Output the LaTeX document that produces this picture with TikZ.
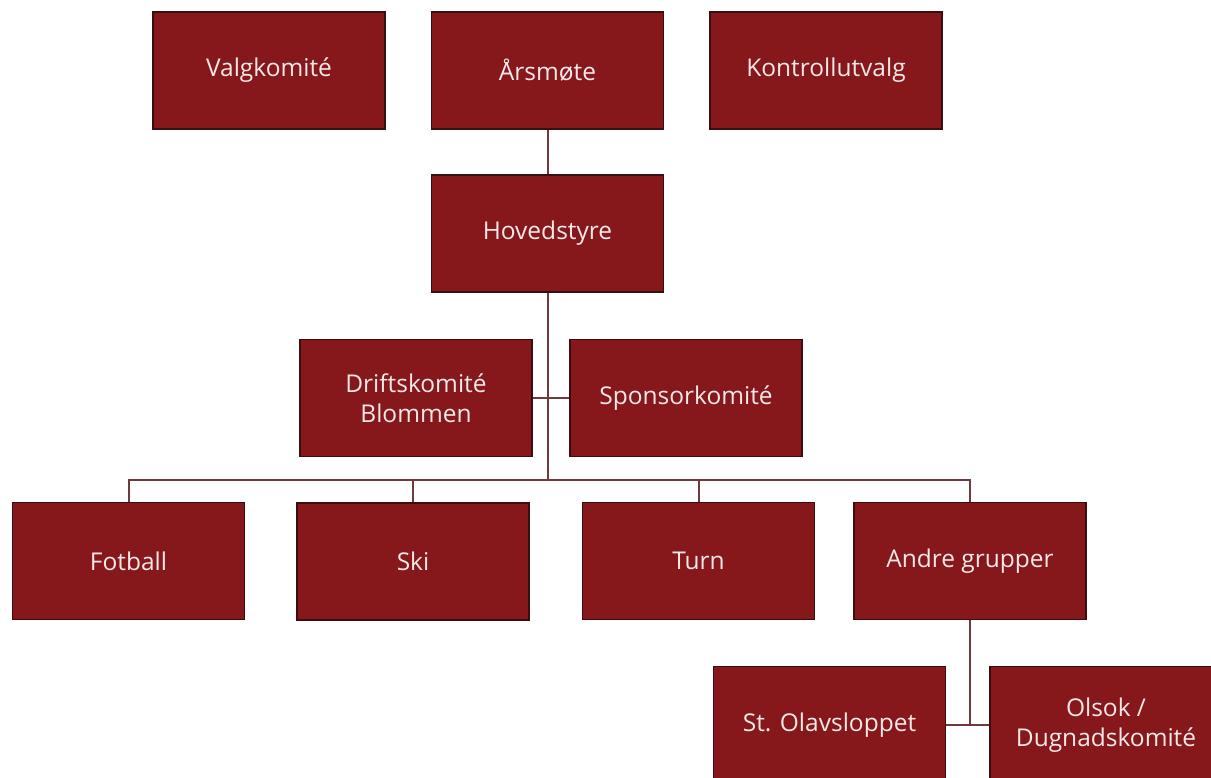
\documentclass[tikz,border=0pt]{standalone}
\usepackage{fontspec}
\setmainfont{Open Sans}
\definecolor{boxfill}{HTML}{86181C}
\definecolor{boxline}{HTML}{3A0E10}
\definecolor{conn}{HTML}{6E3A3C}
\definecolor{boxtext}{HTML}{F4E8E8}
\tikzset{
  orgbox/.style={draw=boxline, line width=1.3pt, fill=boxfill, text=boxtext,
    minimum width=232pt, minimum height=117pt, inner sep=0pt, align=center,
    font=\fontsize{24.5}{30.5}\selectfont},
  link/.style={draw=conn, line width=2pt}
}
\begin{document}
\begin{tikzpicture}[x=1pt,y=-1pt]
\useasboundingbox (0,0) rectangle (1211,778);
\clip (0,0) rectangle (1211,778);
\node[orgbox] (valg) at (269,70.5) {Valgkomité};
\node[orgbox] (aars) at (547.5,70.5) {Årsmøte};
\node[orgbox] (kontroll) at (826,70.5) {Kontrollutvalg};
\node[orgbox] (hoved) at (547.5,233.5) {Hovedstyre};
\node[orgbox] (drift) at (416,398) {Driftskomité\\Blommen};
\node[orgbox] (sponsor) at (686,398) {Sponsorkomité};
\node[orgbox] (fotball) at (128.5,561) {Fotball};
\node[orgbox] (ski) at (413,561.5) {Ski};
\node[orgbox] (turn) at (698.5,561) {Turn};
\node[orgbox] (andre) at (970,561) {Andre grupper};
\node[orgbox] (olav) at (829.5,725) {St. Olavsloppet};
\node[orgbox] (olsok) at (1106,725) {Olsok /\\Dugnadskomité};
\coordinate (bus) at (547.5,480);
\coordinate (sub) at (970,725);
\draw[link] (aars.south) -- (hoved.north);
\draw[link] (hoved.south) -- (bus);
\draw[link] (drift.east) -- (sponsor.west);
\draw[link] (bus) -| (fotball.north);
\draw[link] (bus) -| (ski.north);
\draw[link] (bus) -| (turn.north);
\draw[link] (bus) -| (andre.north);
\draw[link] (andre.south) -- (sub);
\draw[link] (olav.east) -- (olsok.west);
\end{tikzpicture}
\end{document}
